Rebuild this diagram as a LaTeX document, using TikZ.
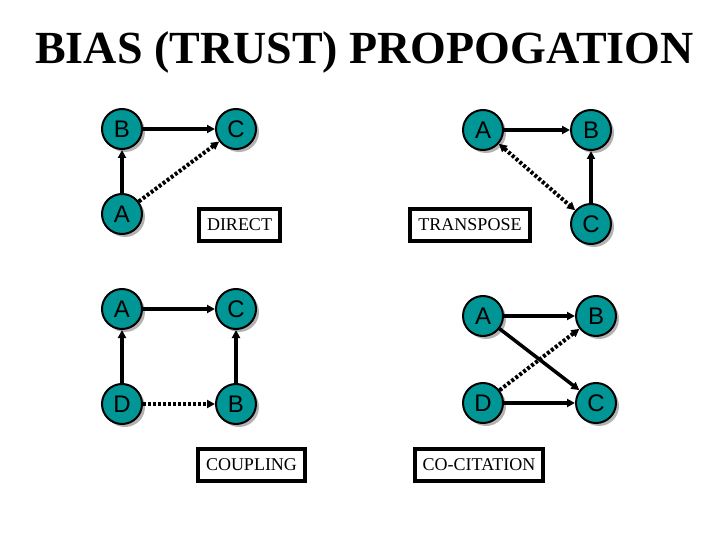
\documentclass[tikz,border=0pt]{standalone}
\usepackage{fontspec}
\setmainfont{Liberation Serif}
\newfontfamily\letterfont{Liberation Sans}
\usetikzlibrary{arrows.meta,shadows}
\definecolor{docteal}{RGB}{0,150,150}
\tikzset{
  doc/.style={circle, draw=black, line width=2pt, fill=docteal, minimum size=40pt, inner sep=0pt,
    font=\letterfont\fontsize{24}{24}\selectfont,
    drop shadow={shadow xshift=3pt, shadow yshift=-3pt, fill=black!30, opacity=1}},
  kind/.style={draw=black, line width=4pt, fill=white, minimum height=32pt, inner xsep=8pt,
    font=\fontsize{18}{18}\selectfont},
  link/.style={line width=3.5pt, -{Triangle[length=8pt,width=8pt]}},
  bias/.style={line width=4pt, dash pattern=on 3pt off 2pt, -{Triangle[length=8pt,width=8pt]}},
}
\begin{document}
\begin{tikzpicture}[x=1pt, y=-1pt]
    \useasboundingbox (0,0) rectangle (720,540);

    % Title
    \node[anchor=base, font=\bfseries\fontsize{46}{46}\selectfont] (title) at (364.5,64) {BIAS (TRUST) PROPOGATION};

    % Direct
    \node[doc] (dirB) at (122,129) {B};
    \node[doc] (dirC) at (236,129) {C};
    \node[doc] (dirA) at (122,214) {A};
    \node[kind] (direct) at (239.5,225) {DIRECT};
    \draw[link] (dirB) -- (dirC);
    \draw[link] (dirA) -- (dirB);
    \draw[bias] (dirA) -- (dirC);

    % Transpose
    \node[doc] (trA) at (483,130) {A};
    \node[doc] (trB) at (591,130) {B};
    \node[doc] (trC) at (591,224) {C};
    \node[kind] (transpose) at (470,225) {TRANSPOSE};
    \draw[link] (trA) -- (trB);
    \draw[link] (trC) -- (trB);
    \draw[bias, {Triangle[length=8pt,width=8pt]}-{Triangle[length=8pt,width=8pt]}] (trA) -- (trC);

    % Coupling
    \node[doc] (coA) at (122,309) {A};
    \node[doc] (coC) at (236,309) {C};
    \node[doc] (coD) at (122,404) {D};
    \node[doc] (coB) at (236,404) {B};
    \node[kind] (coupling) at (251.5,465) {COUPLING};
    \draw[link] (coA) -- (coC);
    \draw[link] (coD) -- (coA);
    \draw[link] (coB) -- (coC);
    \draw[bias] (coD) -- (coB);

    % Co-citation
    \node[doc] (ccA) at (483,316) {A};
    \node[doc] (ccB) at (596,316) {B};
    \node[doc] (ccD) at (483,403) {D};
    \node[doc] (ccC) at (596,403) {C};
    \node[kind] (cocitation) at (479,465) {CO-CITATION};
    \draw[link] (ccA) -- (ccB);
    \draw[link] (ccA) -- (ccC);
    \draw[link] (ccD) -- (ccC);
    \draw[bias] (ccD) -- (ccB);
\end{tikzpicture}
\end{document}
